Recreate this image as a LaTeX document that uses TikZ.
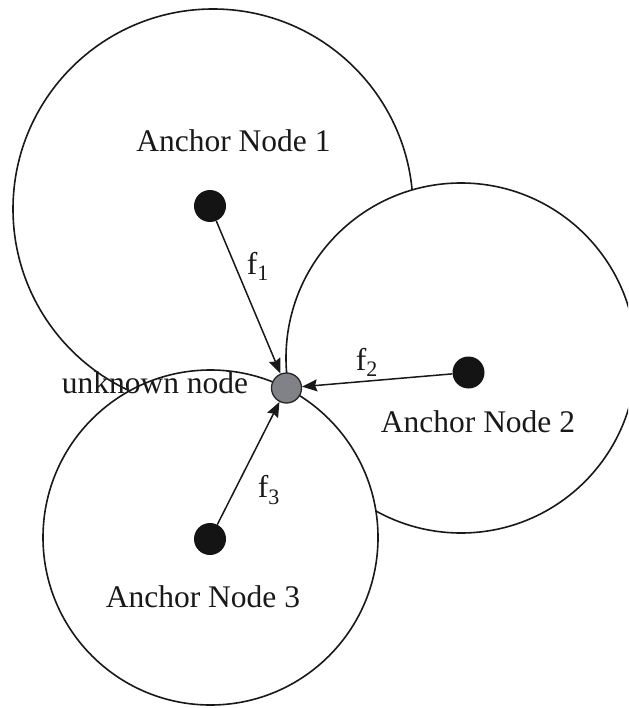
\documentclass[tikz,border=0pt]{standalone}
\usepackage{fontspec}
\setmainfont{Liberation Serif}
\usetikzlibrary{arrows.meta}
\definecolor{unkgray}{RGB}{128,130,135}
\begin{document}
\begin{tikzpicture}[x=1pt,y=-1pt,
  ring/.style={draw=black!90, line width=1.6pt, fill=white},
  anchordot/.style={circle, fill=black!92, inner sep=0pt, minimum size=32pt},
  unknowndot/.style={circle, draw=black!85, line width=1.3pt, fill=unkgray, inner sep=0pt, minimum size=30pt},
  lbl/.style={font=\fontsize{31.5}{36}\selectfont, inner sep=0pt, text=black!90},
  meas/.style={line width=1.5pt, draw=black!90, -{Stealth[length=15pt,width=12pt,inset=2pt]}}
]
\useasboundingbox (0,0) rectangle (628,708);
\clip (0,0) rectangle (628,708);
\fill[white] (0,0) rectangle (628,708);
% coverage circles (later ones lie on top)
\draw[ring] (213,209) circle[radius=200];
\draw[ring] (461,358) circle[radius=175];
\draw[ring] (210.5,537.5) circle[radius=167.5];
% nodes
\node[anchordot] (a1) at (210,206) {};
\node[anchordot] (a2) at (468.5,372.5) {};
\node[anchordot] (a3) at (210,539) {};
\node[unknowndot] (u) at (286.5,388) {};
% distance arrows
\draw[meas] (a1) -- (u);
\draw[meas] (a2) -- (u);
\draw[meas] (a3) -- (u);
% labels
\node[lbl, anchor=base] (t1) at (233.5,152) {Anchor Node 1};
\node[lbl, anchor=base] (t2) at (478,432) {Anchor Node 2};
\node[lbl, anchor=base] (t3) at (203,607) {Anchor Node 3};
\node[lbl, anchor=base] (tu) at (155,393) {unknown node};
\node[lbl] (f1) at (258,266) {f\textsubscript{1}};
\node[lbl] (f2) at (367,362) {f\textsubscript{2}};
\node[lbl] (f3) at (269,490) {f\textsubscript{3}};
\end{tikzpicture}
\end{document}
